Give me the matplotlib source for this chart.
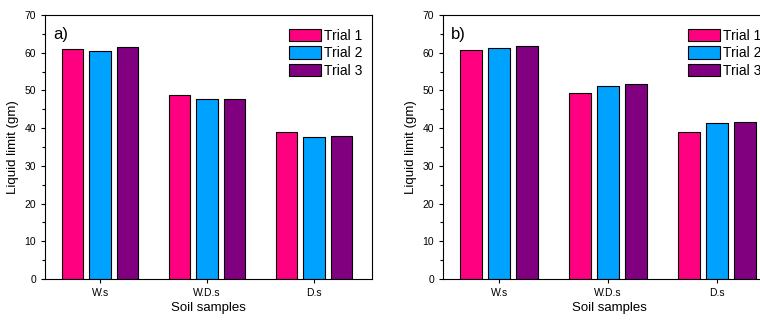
import numpy as np
import matplotlib.pyplot as plt
from matplotlib.ticker import MultipleLocator

samples = ['W.s', 'W.D.s', 'D.s']
trials = ['Trial 1', 'Trial 2', 'Trial 3']
colors = ['#FF0080', '#00A2FF', '#800080']

# liquid limit values, panel a and panel b (rows = trials)
vals_a = [[61.0, 48.9, 38.9],
          [60.4, 47.7, 37.7],
          [61.4, 47.7, 37.8]]
vals_b = [[60.6, 49.2, 38.9],
          [61.3, 51.3, 41.3],
          [61.7, 51.7, 41.6]]

plt.rcParams['font.family'] = ['Liberation Sans', 'DejaVu Sans']


def draw(ax, vals, tag, leg_x):
    x = np.arange(len(samples))
    step = 0.257
    for i, (name, v) in enumerate(zip(trials, vals)):
        ax.bar(x + (i - 1) * step, v, width=0.2, color=colors[i],
               edgecolor='black', linewidth=0.8, label=name)
    ax.set_xlim(-0.515, 2.54)
    ax.set_ylim(0, 70)
    ax.set_xticks(x)
    ax.set_xticklabels(samples, fontsize=7.5)
    ax.yaxis.set_major_locator(MultipleLocator(10))
    ax.yaxis.set_minor_locator(MultipleLocator(5))
    ax.tick_params(axis='y', labelsize=7.5)
    ax.tick_params(which='both', direction='out', length=3, width=0.8)
    ax.tick_params(which='minor', length=2)
    ax.set_xlabel('Soil samples', fontsize=9.5, labelpad=3)
    ax.set_ylabel('Liquid limit (gm)', fontsize=9.5, labelpad=4)
    for s in ax.spines.values():
        s.set_linewidth(0.8)
    ax.text(0.025, 0.955, tag, transform=ax.transAxes, fontsize=12,
            va='top', ha='left')
    ax.legend(loc='upper right', bbox_to_anchor=(leg_x, 0.985), frameon=False,
              fontsize=10, handlelength=2.3, handleheight=1.0,
              handletextpad=0.2, labelspacing=0.25, borderaxespad=0.3)


fig = plt.figure(figsize=(7.6, 3.2), dpi=100)
ax1 = fig.add_axes([0.0592, 0.128, 0.430, 0.825])
ax2 = fig.add_axes([0.583, 0.128, 0.438, 0.825])
draw(ax1, vals_a, 'a)', 1.0)
draw(ax2, vals_b, 'b)', 0.985)

fig.savefig('out.png', dpi=100)
plt.close(fig)
